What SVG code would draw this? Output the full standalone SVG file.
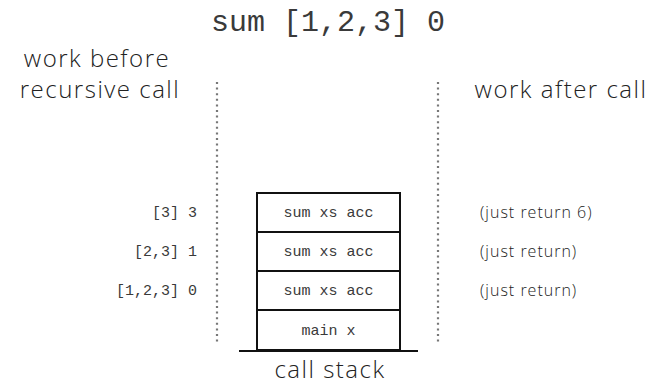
<svg xmlns="http://www.w3.org/2000/svg" width="649" height="385" viewBox="0 0 649 385">
  <style>
    .mono { font-family: "Liberation Mono", "DejaVu Sans Mono", monospace; fill: #3a3a3a; }
    .sans { font-family: "Open Sans", "Lato", sans-serif; font-weight: 300; fill: #222; }
    .big { font-size: 24px; letter-spacing: 1.5px; }
    .small { font-size: 16px; letter-spacing: 1px; }
    .frame { fill: #fff; stroke: #111; stroke-width: 2; }
    .dots { stroke: #777; stroke-width: 2.2; stroke-dasharray: 2 3.6; fill: none; }
  </style>
  <rect width="649" height="385" fill="#fff"/>

  <text class="mono" x="328" y="31" font-size="30" text-anchor="middle">sum [1,2,3] 0</text>

  <g id="labels" class="sans big" text-anchor="middle">
    <text x="97" y="67">work before</text>
    <text x="100" y="98">recursive call</text>
    <text x="561" y="98">work after call</text>
  </g>

  <g id="dividers">
    <line class="dots" x1="217" y1="82" x2="217" y2="342"/>
    <line class="dots" x1="438" y1="82" x2="438" y2="342"/>
  </g>

  <g id="args" class="mono" font-size="15" text-anchor="end">
    <text x="197" y="217">[3] 3</text>
    <text x="197" y="256">[2,3] 1</text>
    <text x="197" y="295">[1,2,3] 0</text>
  </g>

  <g id="frame-1">
    <rect class="frame" x="257" y="193" width="143" height="39"/>
    <text class="mono" x="328.5" y="217" font-size="15" text-anchor="middle">sum xs acc</text>
  </g>
  <g id="frame-2">
    <rect class="frame" x="257" y="232" width="143" height="39"/>
    <text class="mono" x="328.5" y="256" font-size="15" text-anchor="middle">sum xs acc</text>
  </g>
  <g id="frame-3">
    <rect class="frame" x="257" y="271" width="143" height="39"/>
    <text class="mono" x="328.5" y="295" font-size="15" text-anchor="middle">sum xs acc</text>
  </g>
  <g id="frame-main">
    <rect class="frame" x="257" y="310" width="143" height="40"/>
    <text class="mono" x="328.5" y="335" font-size="15" text-anchor="middle">main x</text>
  </g>

  <g id="base">
    <line x1="239" y1="351" x2="418" y2="351" stroke="#111" stroke-width="2"/>
    <text class="sans big" x="330" y="378" text-anchor="middle">call stack</text>
  </g>

  <g id="returns" class="sans small">
    <text x="480" y="218">(just return 6)</text>
    <text x="480" y="257">(just return)</text>
    <text x="480" y="296">(just return)</text>
  </g>
</svg>
